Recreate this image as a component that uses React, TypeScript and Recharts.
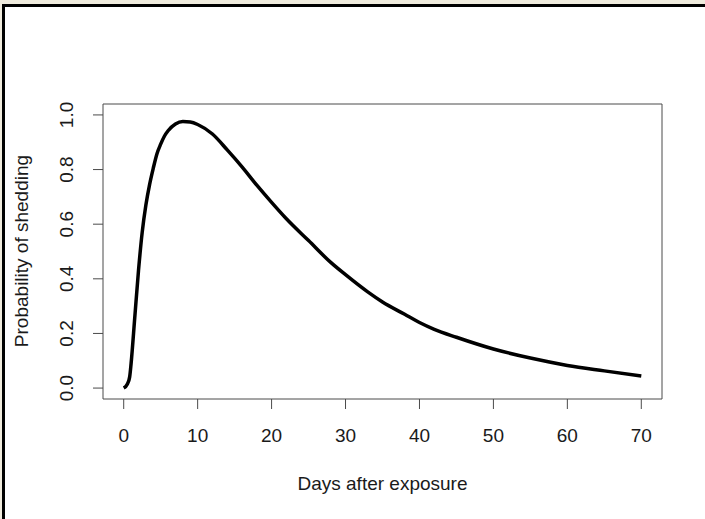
import { LineChart, Line, XAxis, YAxis, ReferenceArea } from "recharts";

// days after exposure and the probability
const DAYS = [
  0, 0.5, 0.8, 1, 1.5, 2, 2.5, 3, 3.5, 4, 4.5, 5, 5.5, 6, 7, 8, 9, 10, 12, 14,
  16, 18, 20, 22, 25, 28, 30, 33, 35, 38, 40, 42, 45, 50, 55, 60, 65, 70,
];
const SHEDDING = [
  0, 0.015, 0.04, 0.09, 0.26, 0.43, 0.57, 0.67, 0.745, 0.805, 0.858, 0.893,
  0.922, 0.942, 0.967, 0.976, 0.974, 0.965, 0.93, 0.872, 0.81, 0.743, 0.68,
  0.62, 0.54, 0.46, 0.415, 0.352, 0.315, 0.27, 0.24, 0.215, 0.186, 0.143,
  0.11, 0.083, 0.063, 0.044,
];
const X_TICKS = [0, 10, 20, 30, 40, 50, 60, 70];
const Y_TICKS = [0, 0.2, 0.4, 0.6, 0.8, 1.0];

const X_DOMAIN: [number, number] = [-2.8, 72.8];
const Y_DOMAIN: [number, number] = [-0.04, 1.04];

const data = DAYS.map((day, i) => ({ day, p: SHEDDING[i] }));

const FONT = "'Liberation Sans', Arial, sans-serif";
const INK = "#1a1a1a";
const FRAME = "#4a4a4a";

const XTick = (props: any) => (
  <text
    x={props.x}
    y={442}
    textAnchor="middle"
    fontSize={19}
    fontFamily={FONT}
    fill={INK}
  >
    {props.payload.value}
  </text>
);

const YTick = (props: any) => (
  <text
    x={73}
    y={props.y}
    transform={`rotate(-90, 73, ${props.y})`}
    textAnchor="middle"
    fontSize={19}
    fontFamily={FONT}
    fill={INK}
  >
    {Number(props.payload.value).toFixed(1)}
  </text>
);

export default function App() {
  return (
    <div
      style={{
        position: "absolute",
        left: 0,
        top: 0,
        width: 705,
        height: 519,
        background: "#efebdd",
        overflow: "hidden",
      }}
    >
      <div
        style={{
          position: "absolute",
          left: 2,
          top: 4,
          width: 710,
          height: 520,
          background: "#fff",
          borderLeft: "3px solid #000",
          borderTop: "3px solid #000",
        }}
      />
      <div style={{ position: "absolute", left: 0, top: 0 }}>
        <LineChart
          width={705}
          height={519}
          data={data}
          margin={{ top: 104, right: 43, left: 43, bottom: 60 }}
        >
          <XAxis
            dataKey="day"
            type="number"
            domain={X_DOMAIN}
            ticks={X_TICKS}
            interval={0}
            allowDataOverflow
            axisLine={false}
            tickLine={{ stroke: FRAME }}
            tickSize={10}
            height={60}
            tick={XTick}
            label={{
              content: () => (
                <text
                  x={382.5}
                  y={490}
                  textAnchor="middle"
                  fontSize={19}
                  fontFamily={FONT}
                  fill={INK}
                >
                  Days after exposure
                </text>
              ),
            }}
          />
          <YAxis
            type="number"
            domain={Y_DOMAIN}
            ticks={Y_TICKS}
            interval={0}
            allowDataOverflow
            axisLine={false}
            tickLine={{ stroke: FRAME }}
            tickSize={10}
            width={60}
            tick={YTick}
            label={{
              content: () => (
                <text
                  x={27.5}
                  y={251}
                  transform="rotate(-90, 27.5, 251)"
                  textAnchor="middle"
                  fontSize={19}
                  fontFamily={FONT}
                  fill={INK}
                >
                  Probability of shedding
                </text>
              ),
            }}
          />
          <ReferenceArea
            x1={X_DOMAIN[0]}
            x2={X_DOMAIN[1]}
            y1={Y_DOMAIN[0]}
            y2={Y_DOMAIN[1]}
            fill="none"
            stroke={FRAME}
            strokeWidth={1}
          />
          <Line
            type="monotone"
            dataKey="p"
            stroke="#000"
            strokeWidth={3.5}
            dot={false}
            isAnimationActive={false}
          />
        </LineChart>
      </div>
    </div>
  );
}
